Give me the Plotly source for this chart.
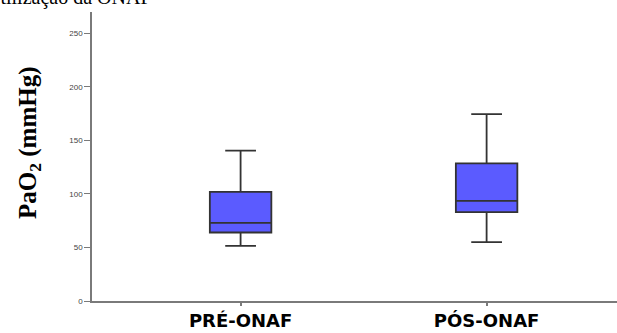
import plotly.graph_objects as go

categories = ["PRÉ-ONAF", "PÓS-ONAF"]
lower_fence = [51.5, 55]
q1 = [64, 83]
median = [73, 93.5]
q3 = [102, 128.5]
upper_fence = [140.5, 174.5]
y_ticks = [0, 50, 100, 150, 200, 250]

fig = go.Figure()
fig.add_trace(go.Box(
    x=categories,
    q1=q1, median=median, q3=q3,
    lowerfence=lower_fence, upperfence=upper_fence,
    fillcolor="#5b5bff",
    line=dict(color="#333333", width=1.8),
    width=0.25,
    whiskerwidth=0.5,
    boxpoints=False,
    showlegend=False,
    hoverinfo="skip",
))

fig.update_layout(
    width=617, height=333,
    margin=dict(l=92, r=0, t=12, b=32),
    paper_bgcolor="white", plot_bgcolor="white",
    xaxis=dict(
        type="category", range=[-0.604, 1.53],
        showline=True, linecolor="#7a7a7a", linewidth=1.5,
        ticks="outside", ticklen=3, tickcolor="#7a7a7a", tickwidth=1.5,
        showgrid=False, zeroline=False,
        tickfont=dict(family="DejaVu Sans", size=18, color="black", weight="bold"),
    ),
    yaxis=dict(
        range=[0, 270], tickvals=y_ticks,
        showline=True, linecolor="#7a7a7a", linewidth=1.5,
        ticks="outside", ticklen=6, tickcolor="#7a7a7a", tickwidth=1.2,
        showgrid=False, zeroline=False,
        tickfont=dict(family="Arial, Liberation Sans", size=8, color="#444"),
    ),
    annotations=[
        dict(text="<b>PaO<sub>2</sub> (mmHg)</b>", textangle=-90,
             xref="paper", yref="paper", x=-0.118, y=0.547,
             xanchor="center", yanchor="middle", showarrow=False,
             font=dict(family="Liberation Serif, Times New Roman", size=25, color="black")),
        dict(text="Utilização da ONAF", xref="paper", yref="paper",
             x=-0.205, y=1.0035, xanchor="left", yanchor="bottom", showarrow=False,
             font=dict(family="Liberation Serif, Times New Roman", size=20, color="black")),
    ],
)

fig.write_html("out.html", config={"displayModeBar": False},
               post_script="document.body.style.margin='0';")
